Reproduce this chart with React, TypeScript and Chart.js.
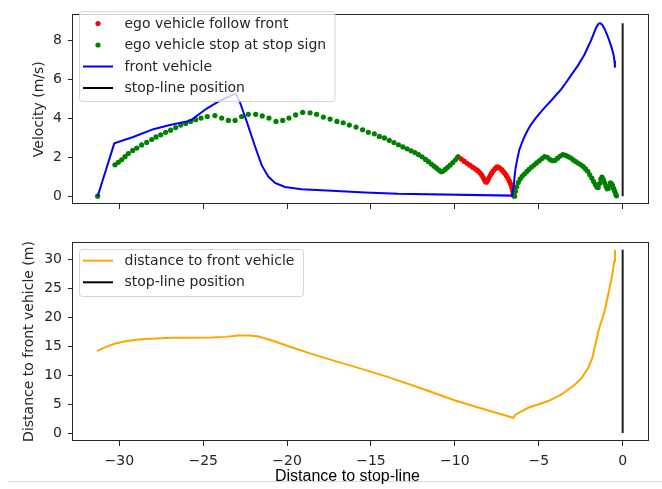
import React, { useEffect, useRef } from 'react';
import { Chart, registerables } from 'chart.js';
Chart.register(...registerables);

// ---------- data ----------
// ego vehicle, stop at stop sign (green dots)
const egoStopX = [
  -31.29, -30.26, -30.06, -29.86, -29.66, -29.46, -29.2, -28.96, -28.67, -28.37, -28.07, -27.81, -27.53, -27.24,
  -26.94, -26.64, -26.34, -26.04, -25.75, -25.45, -25.13, -24.76, -24.3, -23.9, -23.5, -23.1, -22.71, -22.31,
  -21.87, -21.48, -21.08, -20.66, -20.26, -19.89, -19.49, -19.07, -18.63, -18.24, -17.84, -17.44, -17.03, -16.66,
  -16.29, -15.89, -15.5, -15.16, -14.8, -14.5, -14.2, -13.91, -13.63, -13.36, -13.1, -12.85, -12.61, -12.38,
  -12.16, -11.95, -11.75, -11.57, -11.4, -11.24, -11.09, -10.95, -10.82, -10.7, -10.57, -10.43, -10.28, -10.12,
  -9.97, -9.83,
  -6.44, -6.39, -6.32, -6.22, -6.11, -5.99, -5.86, -5.72, -5.58, -5.43, -5.28, -5.13, -4.97, -4.81, -4.65,
  -4.49, -4.33, -4.18, -4.03, -3.88, -3.72, -3.56, -3.4, -3.24, -3.09, -2.94, -2.79, -2.64, -2.49, -2.35,
  -2.21, -2.08, -1.96, -1.84, -1.73, -1.63, -1.54, -1.46, -1.38, -1.3, -1.23, -1.15, -1.07, -0.99, -0.92,
  -0.86, -0.8, -0.73, -0.66, -0.6, -0.54, -0.48, -0.42, -0.37,
];
const egoStopV = [
  0, 1.61, 1.74, 1.87, 2.03, 2.19, 2.35, 2.47, 2.63, 2.76, 2.91, 3.04, 3.15, 3.28,
  3.39, 3.52, 3.65, 3.73, 3.84, 3.93, 4.01, 4.09, 4.14, 4.01, 3.89, 3.89, 4.09, 4.2,
  4.2, 4.12, 4.01, 3.84, 3.89, 4.01, 4.17, 4.3, 4.28, 4.2, 4.06, 3.96, 3.84, 3.77,
  3.65, 3.55, 3.41, 3.28, 3.2, 3.07, 2.99, 2.87, 2.75, 2.64, 2.53, 2.43, 2.33, 2.24,
  2.13, 2.02, 1.89, 1.77, 1.65, 1.54, 1.44, 1.34, 1.26, 1.29, 1.38, 1.48, 1.6, 1.73,
  1.87, 2.01,
  0, 0.25, 0.48, 0.7, 0.88, 1.02, 1.14, 1.26, 1.38, 1.5, 1.6, 1.71, 1.82, 1.93, 2.03,
  2.0, 1.88, 1.82, 1.84, 1.95, 2.06, 2.13, 2.1, 2.03, 1.96, 1.86, 1.77, 1.69, 1.61, 1.52,
  1.4, 1.28, 1.1, 0.93, 0.75, 0.6, 0.47, 0.45, 0.65, 0.88, 0.98, 0.85, 0.68, 0.5, 0.38,
  0.4, 0.55, 0.68, 0.64, 0.55, 0.4, 0.27, 0.12, 0.02,
];
// ego vehicle, follow front (red dots)
const egoFollowX = [
  -9.8, -9.62, -9.45, -9.28, -9.11, -8.94, -8.78, -8.64, -8.51, -8.4, -8.31, -8.24, -8.18, -8.12, -8.05, -7.98,
  -7.9, -7.81, -7.71, -7.61, -7.51, -7.41, -7.31, -7.21, -7.11, -7.01, -6.92, -6.83, -6.75, -6.68, -6.61, -6.56,
  -6.52, -6.49,
];
const egoFollowV = [
  2.02, 1.91, 1.8, 1.69, 1.59, 1.49, 1.4, 1.31, 1.21, 1.09, 0.96, 0.84, 0.75, 0.72, 0.8, 0.92,
  1.06, 1.18, 1.3, 1.4, 1.49, 1.49, 1.43, 1.36, 1.26, 1.16, 1.04, 0.91, 0.77, 0.62, 0.46, 0.3,
  0.15, 0.02,
];
// front vehicle velocity (blue line)
const frontX = [
  -31.29, -30.3, -29.17, -27.97, -26.98, -25.98, -25.68, -24.79, -24.0, -23.21, -23.05, -22.81, -22.41, -21.91,
  -21.51, -21.12, -20.72, -20.13, -19.13, -17.34, -15.36, -13.41, -6.6, -6.49, -6.45, -6.38, -6.28, -6.16,
  -6.0, -5.86, -5.66, -5.46, -5.17, -4.87, -4.57, -4.27, -3.98, -3.68, -3.38, -3.08, -2.68, -2.29, -1.89,
  -1.59, -1.45, -1.35, -1.22, -1.08, -0.94, -0.82, -0.7, -0.6, -0.54, -0.49, -0.46,
];
const frontV = [
  0, 2.71, 3.04, 3.44, 3.65, 3.84, 3.93, 4.5, 4.9, 5.22, 5.24, 4.82, 3.84, 2.55,
  1.58, 1.01, 0.68, 0.47, 0.36, 0.28, 0.19, 0.12, 0.03, 0.5, 0.95, 1.45, 1.9, 2.38,
  2.75, 3.04, 3.38, 3.68, 4.02, 4.33, 4.62, 4.9, 5.18, 5.47, 5.82, 6.2, 6.69, 7.25, 7.98,
  8.63, 8.84, 8.88, 8.8, 8.6, 8.31, 8.05, 7.74, 7.45, 7.25, 6.95, 6.6,
];
// distance to front vehicle (orange line)
const gapX = [
  -31.33, -30.83, -30.24, -29.64, -28.85, -27.85, -26.86, -25.86, -24.48, -23.68, -22.89, -22.29, -21.7,
  -20.9, -19.91, -18.91, -17.92, -16.92, -15.95, -13.97, -11.98, -9.99, -8.01, -6.52, -6.38, -5.63, -4.43,
  -3.64, -2.84, -2.44, -2.05, -1.81, -1.65, -1.49, -1.35, -1.16, -1.01, -0.82, -0.62, -0.5, -0.46,
];
const gapD = [
  14.17, 14.86, 15.49, 15.9, 16.18, 16.35, 16.47, 16.47, 16.52, 16.64, 16.87, 16.87, 16.7,
  16.0, 15.03, 14.05, 13.13, 12.27, 11.45, 9.68, 7.71, 5.63, 3.91, 2.64, 3.21, 4.37, 5.53,
  6.67, 8.4, 9.55, 11.28, 13.0, 15.03, 17.05, 18.66, 20.22, 21.95, 24.54, 27.41, 29.72, 31.73,
];
// stop-line position (vertical line at 0)
const stopLineX = [0, 0];
const stopLineTopV = [0, 8.88];
const stopLineBottomD = [0, 31.73];

const xTicks = [-30, -25, -20, -15, -10, -5, 0];
const velTicks = [0, 2, 4, 6, 8];
const gapTicks = [0, 5, 10, 15, 20, 25, 30];

const labels = {
  follow: 'ego vehicle follow front',
  stop: 'ego vehicle stop at stop sign',
  front: 'front vehicle',
  stopLine: 'stop-line position',
  gap: 'distance to front vehicle',
  yTop: 'Velocity (m/s)',
  yBottom: 'Distance to front vehicle (m)',
  x: 'Distance to stop-line',
};

// ---------- styling ----------
const FONT = '"DejaVu Sans", sans-serif';
const TEXT = '#262626';
const DOT_R = 2.6;
const pts = (xs: number[], ys: number[]) => xs.map((x, i) => ({ x, y: ys[i] }));
const fmt = (v: number) => (v < 0 ? '\u2212' + Math.abs(v) : String(v));

const framePlugin = {
  id: 'mplFrame',
  afterDatasetsDraw(chart: any) {
    const { ctx, chartArea: a } = chart;
    ctx.save();
    ctx.strokeStyle = TEXT;
    ctx.lineWidth = 1;
    ctx.strokeRect(Math.round(a.left) - 0.5, Math.round(a.top) + 0.5, Math.round(a.right - a.left), Math.round(a.bottom - a.top) - 1);
    ctx.restore();
  },
};

const legendPlugin = {
  id: 'mplLegend',
  afterDraw(chart: any, _args: any, opts: any) {
    if (!opts || !opts.box) return;
    const { ctx } = chart;
    const [x0, y0, x1, y1] = opts.box;
    ctx.save();
    const r = 3;
    ctx.beginPath();
    ctx.moveTo(x0 + r, y0);
    ctx.arcTo(x1, y0, x1, y1, r);
    ctx.arcTo(x1, y1, x0, y1, r);
    ctx.arcTo(x0, y1, x0, y0, r);
    ctx.arcTo(x0, y0, x1, y0, r);
    ctx.closePath();
    ctx.fillStyle = 'rgba(255,255,255,0.8)';
    ctx.fill();
    ctx.strokeStyle = 'rgba(204,204,204,0.8)';
    ctx.lineWidth = 1;
    ctx.stroke();
    const ds = chart.data.datasets.slice().reverse();
    ds.forEach((d: any, i: number) => {
      const y = opts.rowY0 + i * opts.rowStep;
      if (d.showLine === false) {
        ctx.beginPath();
        ctx.arc((opts.h1 + opts.h2) / 2, y, d.pointRadius, 0, Math.PI * 2);
        ctx.fillStyle = d.backgroundColor;
        ctx.fill();
      } else {
        ctx.beginPath();
        ctx.moveTo(opts.h1, y);
        ctx.lineTo(opts.h2, y);
        ctx.strokeStyle = d.legendColor || d.borderColor;
        ctx.lineWidth = d.borderWidth;
        ctx.stroke();
      }
      ctx.fillStyle = TEXT;
      ctx.font = `14px ${FONT}`;
      ctx.textBaseline = 'middle';
      ctx.textAlign = 'left';
      ctx.fillText(d.label, opts.textX, y + 0.5);
    });
    ctx.restore();
  },
};

function axisCommon() {
  return {
    grid: { drawOnChartArea: false, drawTicks: true, tickLength: 5, color: TEXT, tickColor: TEXT, tickWidth: 1 },
    border: { display: false },
  };
}

function makeOptions(cfg: any) {
  return {
    responsive: false,
    animation: false,
    devicePixelRatio: 1,
    events: [],
    layout: { padding: { top: cfg.padTop, right: 13, left: 0, bottom: 0 } },
    plugins: {
      legend: { display: false },
      tooltip: { enabled: false },
      mplLegend: cfg.legend,
    },
    scales: {
      x: {
        type: 'linear',
        min: -32.76,
        max: 1.57,
        afterBuildTicks: (s: any) => { s.ticks = xTicks.map((v) => ({ value: v })); },
        afterFit: (s: any) => { s.height = cfg.xHeight; },
        ticks: { display: cfg.xLabels, font: { family: FONT, size: 14 }, color: TEXT, padding: 7, maxRotation: 0, autoSkip: false, callback: (v: any) => fmt(v) },
        ...axisCommon(),
      },
      y: {
        type: 'linear',
        min: cfg.yMin,
        max: cfg.yMax,
        afterBuildTicks: (s: any) => { s.ticks = cfg.yTicks.map((v: number) => ({ value: v })); },
        afterFit: (s: any) => { s.width = 73; },
        ticks: { font: { family: FONT, size: 14 }, color: TEXT, padding: 6, autoSkip: false, callback: (v: any) => fmt(v) },
        title: { display: true, text: cfg.yTitle, font: { family: FONT, size: 14 }, color: TEXT, padding: { top: cfg.titlePad, bottom: 0 } },
        ...axisCommon(),
      },
    },
  };
}

export default function App() {
  const topRef = useRef<HTMLCanvasElement | null>(null);
  const botRef = useRef<HTMLCanvasElement | null>(null);

  useEffect(() => {
    const top = new Chart(topRef.current as HTMLCanvasElement, {
      type: 'scatter',
      data: {
        datasets: [
          { label: labels.stopLine, data: pts(stopLineX, stopLineTopV), showLine: true, borderColor: '#1a1a1a', legendColor: '#000', borderWidth: 2, pointRadius: 0 } as any,
          { label: labels.front, data: pts(frontX, frontV), showLine: true, borderColor: '#0000ff', borderWidth: 2, pointRadius: 0 },
          { label: labels.stop, data: pts(egoStopX, egoStopV), showLine: false, backgroundColor: '#008000', borderWidth: 0, pointRadius: DOT_R },
          { label: labels.follow, data: pts(egoFollowX, egoFollowV), showLine: false, backgroundColor: '#ff0000', borderWidth: 0, pointRadius: DOT_R },
        ],
      },
      options: makeOptions({
        padTop: 4, xHeight: 18, xLabels: false, yMin: -0.4, yMax: 9.33, yTicks: velTicks, yTitle: labels.yTop, titlePad: 30.6,
        legend: { box: [79.5, 11.5, 335, 101.5], rowY0: 23.5, rowStep: 21.5, h1: 83, h2: 113, textX: 124.5 },
      }) as any,
      plugins: [framePlugin, legendPlugin],
    });
    const bot = new Chart(botRef.current as HTMLCanvasElement, {
      type: 'scatter',
      data: {
        datasets: [
          { label: labels.stopLine, data: pts(stopLineX, stopLineBottomD), showLine: true, borderColor: '#1a1a1a', legendColor: '#000', borderWidth: 2, pointRadius: 0 } as any,
          { label: labels.gap, data: pts(gapX, gapD), showLine: true, borderColor: '#ffa500', borderWidth: 2, pointRadius: 0 },
        ],
      },
      options: makeOptions({
        padTop: 20, xHeight: 48, xLabels: true, yMin: -1.38, yMax: 33.06, yTicks: gapTicks, yTitle: labels.yBottom, titlePad: 21,
        legend: { box: [79.5, 27.5, 303.5, 74.5], rowY0: 38.7, rowStep: 21.6, h1: 83, h2: 113, textX: 124.5 },
      }) as any,
      plugins: [framePlugin, legendPlugin],
    });
    return () => { top.destroy(); bot.destroy(); };
  }, []);

  return (
    <div style={{ position: 'absolute', left: 0, top: 0, width: 662, height: 489, background: '#fff', overflow: 'hidden' }}>
      <canvas ref={topRef} width={662} height={222} style={{ position: 'absolute', left: 0, top: 0, width: 662, height: 222 }} />
      <canvas ref={botRef} width={662} height={267} style={{ position: 'absolute', left: 0, top: 222, width: 662, height: 267 }} />
      <div style={{ position: 'absolute', left: 8, top: 481, width: 654, height: 1, background: '#d9d9d9' }} />
      <div style={{ position: 'absolute', left: 275, top: 468, fontFamily: '"Liberation Sans", Arial, sans-serif', fontSize: 16, lineHeight: '16px', color: '#000', whiteSpace: 'nowrap' }}>
        {labels.x}
      </div>
    </div>
  );
}
